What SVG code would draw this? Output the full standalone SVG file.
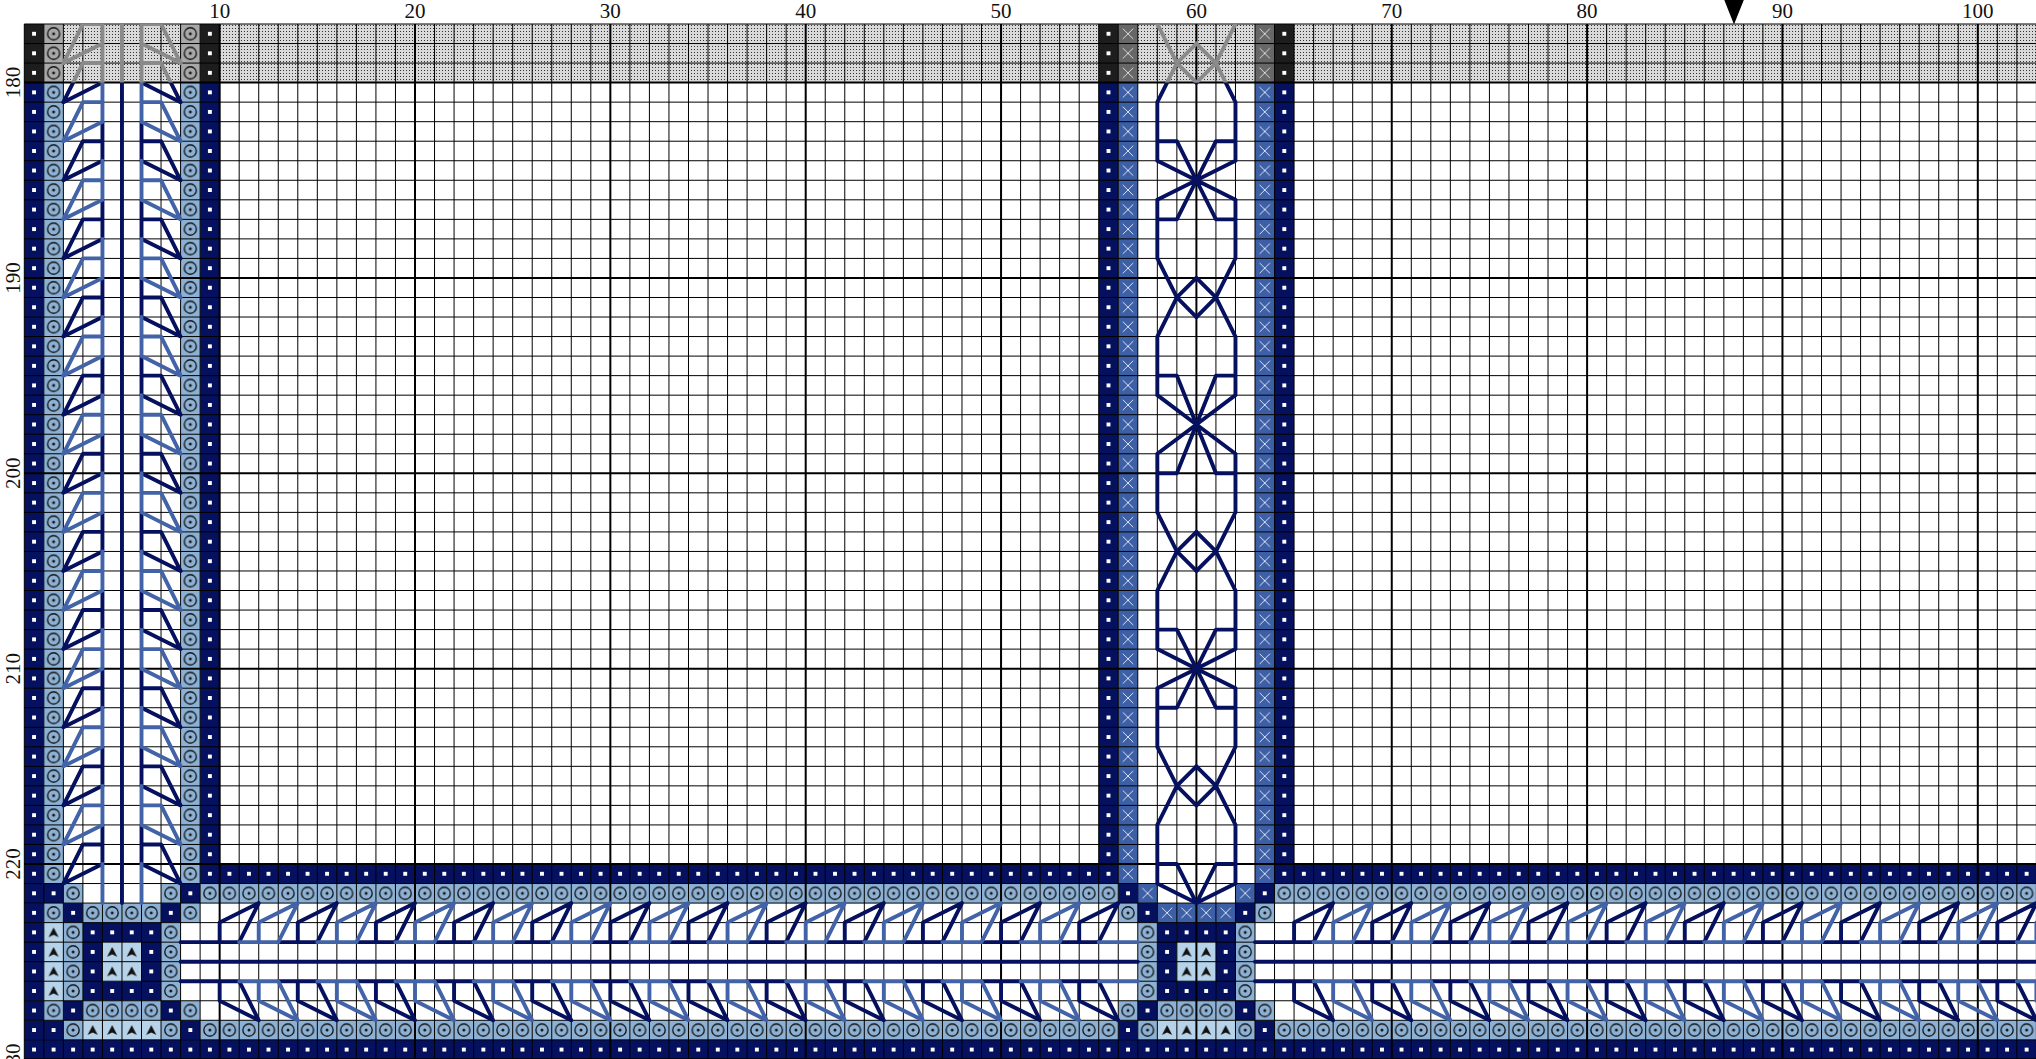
<svg xmlns="http://www.w3.org/2000/svg" xmlns:xlink="http://www.w3.org/1999/xlink" width="2036" height="1059" viewBox="0 0 2036 1059">
<style>
.lbl{font-family:"Liberation Serif","DejaVu Serif",serif;font-size:21px;fill:#111;text-anchor:middle}
.thin{fill:none;stroke:#000;stroke-width:1}
.thick{fill:none;stroke:#000;stroke-width:2}
.bs{fill:none;stroke-width:0.2;stroke-linecap:round;stroke-linejoin:round}
</style>
<defs>
<pattern id="pDot" patternUnits="userSpaceOnUse" width="3" height="3"><rect width="3" height="3" fill="#d9d9d9"/><rect x="1" y="1" width="1" height="1" fill="#333"/></pattern>
<pattern id="pN" patternUnits="userSpaceOnUse" width="1" height="1"><rect width="1" height="1" fill="#05105f"/><rect x=".4" y=".4" width=".2" height=".2" fill="#fff"/></pattern>
<pattern id="pNh" patternUnits="userSpaceOnUse" width="1" height="1"><rect width="1" height="1" fill="#1d1d1d"/><rect x=".4" y=".4" width=".2" height=".2" fill="#fff"/></pattern>
<pattern id="pC" patternUnits="userSpaceOnUse" width="1" height="1"><rect width="1" height="1" fill="#8db1d4"/><circle cx=".5" cy=".5" r=".31" fill="none" stroke="#111" stroke-width=".068"/><circle cx=".5" cy=".5" r=".075" fill="#111"/></pattern>
<pattern id="pCh" patternUnits="userSpaceOnUse" width="1" height="1"><rect width="1" height="1" fill="#a8a8a8"/><circle cx=".5" cy=".5" r=".31" fill="none" stroke="#111" stroke-width=".068"/><circle cx=".5" cy=".5" r=".075" fill="#111"/></pattern>
<pattern id="pX" patternUnits="userSpaceOnUse" width="1" height="1"><rect width="1" height="1" fill="#3d5fa6"/><path d="M.235 .235L.765 .765M.765 .235L.235 .765" stroke="#dfe6f2" stroke-width=".05"/></pattern>
<pattern id="pXh" patternUnits="userSpaceOnUse" width="1" height="1"><rect width="1" height="1" fill="#676767"/><path d="M.235 .235L.765 .765M.765 .235L.235 .765" stroke="#dddddd" stroke-width=".05"/></pattern>
<pattern id="pT" patternUnits="userSpaceOnUse" width="1" height="1"><rect width="1" height="1" fill="#b6d3ea"/><path d="M.5 .25L.76 .75L.5 .63L.24 .75Z" fill="#111"/></pattern>
<clipPath id="cBody" clipPathUnits="userSpaceOnUse"><rect x="-1" y="3" width="110" height="60"/></clipPath>
<clipPath id="cHead" clipPathUnits="userSpaceOnUse"><rect x="-1" y="0" width="110" height="3"/></clipPath>
<g id="gN">
<path d="M5 0V45M4 1V3M4 2H3L2 4L4 3M6 1V3M6 2H7L8 4L6 3M4 5V7M4 6H3L2 8L4 7M6 5V7M6 6H7L8 8L6 7M4 9V11M4 10H3L2 12L4 11M6 9V11M6 10H7L8 12L6 11M4 13V15M4 14H3L2 16L4 15M6 13V15M6 14H7L8 16L6 15M4 17V19M4 18H3L2 20L4 19M6 17V19M6 18H7L8 20L6 19M4 21V23M4 22H3L2 24L4 23M6 21V23M6 22H7L8 24L6 23M4 25V27M4 26H3L2 28L4 27M6 25V27M6 26H7L8 28L6 27M4 29V31M4 30H3L2 32L4 31M6 29V31M6 30H7L8 32L6 31M4 33V35M4 34H3L2 36L4 35M6 33V35M6 34H7L8 36L6 35M4 37V39M4 38H3L2 40L4 39M6 37V39M6 38H7L8 40L6 39M4 41V43M4 42H3L2 44L4 43M6 41V43M6 42H7L8 44L6 43"/>
<path d="M8 48H57M63 48H106M8 47H11M10 47V46L12 45L11 47M8 49H11M10 49V50L12 51L11 49M13 47H15M14 47V46L16 45L15 47M13 49H15M14 49V50L16 51L15 49M17 47H19M18 47V46L20 45L19 47M17 49H19M18 49V50L20 51L19 49M21 47H23M22 47V46L24 45L23 47M21 49H23M22 49V50L24 51L23 49M25 47H27M26 47V46L28 45L27 47M25 49H27M26 49V50L28 51L27 49M29 47H31M30 47V46L32 45L31 47M29 49H31M30 49V50L32 51L31 49M33 47H35M34 47V46L36 45L35 47M33 49H35M34 49V50L36 51L35 49M37 47H39M38 47V46L40 45L39 47M37 49H39M38 49V50L40 51L39 49M41 47H43M42 47V46L44 45L43 47M41 49H43M42 49V50L44 51L43 49M45 47H47M46 47V46L48 45L47 47M45 49H47M46 49V50L48 51L47 49M49 47H51M50 47V46L52 45L51 47M49 49H51M50 49V50L52 51L51 49M53 47H55M54 47V46L56 45L55 47M53 49H55M54 49V50L56 51L55 49"/>
<path d="M63 47H66M65 47V46L67 45L66 47M63 49H66M65 49V50L67 51L66 49M68 47H70M69 47V46L71 45L70 47M68 49H70M69 49V50L71 51L70 49M72 47H74M73 47V46L75 45L74 47M72 49H74M73 49V50L75 51L74 49M76 47H78M77 47V46L79 45L78 47M76 49H78M77 49V50L79 51L78 49M80 47H82M81 47V46L83 45L82 47M80 49H82M81 49V50L83 51L82 49M84 47H86M85 47V46L87 45L86 47M84 49H86M85 49V50L87 51L86 49M88 47H90M89 47V46L91 45L90 47M88 49H90M89 49V50L91 51L90 49M92 47H94M93 47V46L95 45L94 47M92 49H94M93 49V50L95 51L94 49M96 47H98M97 47V46L99 45L98 47M96 49H98M97 49V50L99 51L98 49M100 47H102M101 47V46L103 45L102 47M100 49H102M101 49V50L103 51L102 49"/>
<path d="M58 0L59 2L58 4M60 1L59 2L60 3M58 4V7M58 6H59L60 8L58 7M58 9L60 8L59 10H58M58 9V12M58 12L59 14L58 16M60 13L59 14L60 15M58 16V19M58 18H59L60 20.5L58 19M58 22L60 20.5L59 23H58M58 22V25M58 25L59 27L58 29M60 26L59 27L60 28M58 29V32M58 31H59L60 33L58 32M58 34L60 33L59 35H58M58 34V37M58 37L59 39L58 41M60 38L59 39L60 40M58 41V44M58 43H59L60 45L58 44"/>
<path d="M62 0L61 2L62 4M60 1L61 2L60 3M62 4V7M62 6H61L60 8L62 7M62 9L60 8L61 10H62M62 9V12M62 12L61 14L62 16M60 13L61 14L60 15M62 16V19M62 18H61L60 20.5L62 19M62 22L60 20.5L61 23H62M62 22V25M62 25L61 27L62 29M60 26L61 27L60 28M62 29V32M62 31H61L60 33L62 32M62 34L60 33L61 35H62M62 34V37M62 37L61 39L62 41M60 38L61 39L60 40M62 41V44M62 43H61L60 45L62 44"/>
</g>
<g id="gM">
<path d="M4 -1V1M4 0H3L2 2L4 1M6 -1V1M6 0H7L8 2L6 1M4 3V5M4 4H3L2 6L4 5M6 3V5M6 4H7L8 6L6 5M4 7V9M4 8H3L2 10L4 9M6 7V9M6 8H7L8 10L6 9M4 11V13M4 12H3L2 14L4 13M6 11V13M6 12H7L8 14L6 13M4 15V17M4 16H3L2 18L4 17M6 15V17M6 16H7L8 18L6 17M4 19V21M4 20H3L2 22L4 21M6 19V21M6 20H7L8 22L6 21M4 23V25M4 24H3L2 26L4 25M6 23V25M6 24H7L8 26L6 25M4 27V29M4 28H3L2 30L4 29M6 27V29M6 28H7L8 30L6 29M4 31V33M4 32H3L2 34L4 33M6 31V33M6 32H7L8 34L6 33M4 35V37M4 36H3L2 38L4 37M6 35V37M6 36H7L8 38L6 37M4 39V41M4 40H3L2 42L4 41M6 39V41M6 40H7L8 42L6 41M4 43V45M6 43V45"/>
<path d="M11 47H13M12 47V46L14 45L13 47M11 49H13M12 49V50L14 51L13 49M15 47H17M16 47V46L18 45L17 47M15 49H17M16 49V50L18 51L17 49M19 47H21M20 47V46L22 45L21 47M19 49H21M20 49V50L22 51L21 49M23 47H25M24 47V46L26 45L25 47M23 49H25M24 49V50L26 51L25 49M27 47H29M28 47V46L30 45L29 47M27 49H29M28 49V50L30 51L29 49M31 47H33M32 47V46L34 45L33 47M31 49H33M32 49V50L34 51L33 49M35 47H37M36 47V46L38 45L37 47M35 49H37M36 49V50L38 51L37 49M39 47H41M40 47V46L42 45L41 47M39 49H41M40 49V50L42 51L41 49M43 47H45M44 47V46L46 45L45 47M43 49H45M44 49V50L46 51L45 49M47 47H49M48 47V46L50 45L49 47M47 49H49M48 49V50L50 51L49 49M51 47H53M52 47V46L54 45L53 47M51 49H53M52 49V50L54 51L53 49M55 47H57M55 49H57"/>
<path d="M66 47H68M67 47V46L69 45L68 47M66 49H68M67 49V50L69 51L68 49M70 47H72M71 47V46L73 45L72 47M70 49H72M71 49V50L73 51L72 49M74 47H76M75 47V46L77 45L76 47M74 49H76M75 49V50L77 51L76 49M78 47H80M79 47V46L81 45L80 47M78 49H80M79 49V50L81 51L80 49M82 47H84M83 47V46L85 45L84 47M82 49H84M83 49V50L85 51L84 49M86 47H88M87 47V46L89 45L88 47M86 49H88M87 49V50L89 51L88 49M90 47H92M91 47V46L93 45L92 47M90 49H92M91 49V50L93 51L92 49M94 47H96M95 47V46L97 45L96 47M94 49H96M95 49V50L97 51L96 49M98 47H100M99 47V46L101 45L100 47M98 49H100M99 49V50L101 51L100 49M102 47H104M103 47V46L105 45L104 47M102 49H104M103 49V50L105 51L104 49"/>
</g>
</defs>
<rect width="2036" height="1059" fill="#fff"/>
<rect id="header-band" x="24.3" y="24" width="2012" height="58.6" fill="url(#pDot)"/>
<g id="chart" transform="translate(24.3 24) scale(19.535)">
<g id="cells-navy" fill="url(#pN)">
<rect x="0" y="3" width="1" height="40"/><rect x="9" y="3" width="1" height="40"/><rect x="55" y="3" width="1" height="40"/><rect x="64" y="3" width="1" height="40"/>
<rect x="0" y="43" width="1" height="1"/><rect x="9" y="43" width="47" height="1"/><rect x="64" y="43" width="40" height="1"/>
<rect x="0" y="44" width="2" height="1"/><rect x="8" y="44" width="1" height="1"/><rect x="56" y="44" width="1" height="1"/><rect x="63" y="44" width="1" height="1"/>
<rect x="0" y="45" width="1" height="1"/><rect x="2" y="45" width="1" height="1"/><rect x="7" y="45" width="1" height="1"/><rect x="57" y="45" width="1" height="1"/><rect x="62" y="45" width="1" height="1"/>
<rect x="0" y="46" width="1" height="4"/><rect x="3" y="46" width="1" height="4"/><rect x="6" y="46" width="1" height="4"/><rect x="58" y="46" width="1" height="4"/><rect x="61" y="46" width="1" height="4"/>
<rect x="4" y="46" width="2" height="1"/><rect x="4" y="49" width="2" height="1"/><rect x="59" y="46" width="2" height="1"/><rect x="59" y="49" width="2" height="1"/>
<rect x="0" y="50" width="1" height="1"/><rect x="2" y="50" width="1" height="1"/><rect x="7" y="50" width="1" height="1"/><rect x="57" y="50" width="1" height="1"/><rect x="62" y="50" width="1" height="1"/>
<rect x="0" y="51" width="2" height="1"/><rect x="8" y="51" width="1" height="1"/><rect x="56" y="51" width="1" height="1"/><rect x="63" y="51" width="1" height="1"/>
<rect x="0" y="52" width="104" height="1"/>
</g>
<g id="cells-circle" fill="url(#pC)">
<rect x="1" y="3" width="1" height="41"/><rect x="8" y="3" width="1" height="41"/>
<rect x="2" y="44" width="1" height="1"/><rect x="7" y="44" width="1" height="1"/><rect x="9" y="44" width="47" height="1"/><rect x="64" y="44" width="40" height="1"/>
<rect x="1" y="45" width="1" height="1"/><rect x="3" y="45" width="4" height="1"/><rect x="8" y="45" width="1" height="1"/><rect x="56" y="45" width="1" height="1"/><rect x="63" y="45" width="1" height="1"/>
<rect x="2" y="46" width="1" height="4"/><rect x="7" y="46" width="1" height="4"/><rect x="57" y="46" width="1" height="4"/><rect x="62" y="46" width="1" height="4"/>
<rect x="1" y="50" width="1" height="1"/><rect x="3" y="50" width="4" height="1"/><rect x="8" y="50" width="1" height="1"/><rect x="56" y="50" width="1" height="1"/><rect x="58" y="50" width="4" height="1"/><rect x="63" y="50" width="1" height="1"/>
<rect x="2" y="51" width="1" height="1"/><rect x="7" y="51" width="1" height="1"/><rect x="9" y="51" width="47" height="1"/><rect x="57" y="51" width="1" height="1"/><rect x="62" y="51" width="1" height="1"/><rect x="64" y="51" width="40" height="1"/>
</g>
<g id="cells-x" fill="url(#pX)">
<rect x="56" y="3" width="1" height="41"/><rect x="63" y="3" width="1" height="41"/>
<rect x="57" y="44" width="1" height="1"/><rect x="62" y="44" width="1" height="1"/><rect x="58" y="45" width="4" height="1"/>
</g>
<g id="cells-tri" fill="url(#pT)">
<rect x="1" y="46" width="1" height="4"/><rect x="4" y="47" width="2" height="2"/><rect x="59" y="47" width="2" height="2"/><rect x="3" y="51" width="4" height="1"/><rect x="58" y="51" width="4" height="1"/>
</g>
<g id="cells-header">
<rect x="0" y="0" width="1" height="3" fill="url(#pNh)"/><rect x="9" y="0" width="1" height="3" fill="url(#pNh)"/><rect x="55" y="0" width="1" height="3" fill="url(#pNh)"/><rect x="64" y="0" width="1" height="3" fill="url(#pNh)"/>
<rect x="1" y="0" width="1" height="3" fill="url(#pCh)"/><rect x="8" y="0" width="1" height="3" fill="url(#pCh)"/>
<rect x="56" y="0" width="1" height="3" fill="url(#pXh)"/><rect x="63" y="0" width="1" height="3" fill="url(#pXh)"/>
</g>
<g id="grid">
<path class="thin" vector-effect="non-scaling-stroke" d="M0 0V53M1 0V53M2 0V53M3 0V53M4 0V53M5 0V53M6 0V53M7 0V53M8 0V53M9 0V53M11 0V53M12 0V53M13 0V53M14 0V53M15 0V53M16 0V53M17 0V53M18 0V53M19 0V53M21 0V53M22 0V53M23 0V53M24 0V53M25 0V53M26 0V53M27 0V53M28 0V53M29 0V53M31 0V53M32 0V53M33 0V53M34 0V53M35 0V53M36 0V53M37 0V53M38 0V53M39 0V53M41 0V53M42 0V53M43 0V53M44 0V53M45 0V53M46 0V53M47 0V53M48 0V53M49 0V53M51 0V53M52 0V53M53 0V53M54 0V53M55 0V53M56 0V53M57 0V53M58 0V53M59 0V53M61 0V53M62 0V53M63 0V53M64 0V53M65 0V53M66 0V53M67 0V53M68 0V53M69 0V53M71 0V53M72 0V53M73 0V53M74 0V53M75 0V53M76 0V53M77 0V53M78 0V53M79 0V53M81 0V53M82 0V53M83 0V53M84 0V53M85 0V53M86 0V53M87 0V53M88 0V53M89 0V53M91 0V53M92 0V53M93 0V53M94 0V53M95 0V53M96 0V53M97 0V53M98 0V53M99 0V53M101 0V53M102 0V53M103 0V53M0 0H104M0 1H104M0 2H104M0 4H104M0 5H104M0 6H104M0 7H104M0 8H104M0 9H104M0 10H104M0 11H104M0 12H104M0 14H104M0 15H104M0 16H104M0 17H104M0 18H104M0 19H104M0 20H104M0 21H104M0 22H104M0 24H104M0 25H104M0 26H104M0 27H104M0 28H104M0 29H104M0 30H104M0 31H104M0 32H104M0 34H104M0 35H104M0 36H104M0 37H104M0 38H104M0 39H104M0 40H104M0 41H104M0 42H104M0 44H104M0 45H104M0 46H104M0 47H104M0 48H104M0 49H104M0 50H104M0 51H104M0 52H104"/>
<path class="thick" vector-effect="non-scaling-stroke" d="M10 0V53M20 0V53M30 0V53M40 0V53M50 0V53M60 0V53M70 0V53M80 0V53M90 0V53M100 0V53M0 3H104M0 13H104M0 23H104M0 33H104M0 43H104M0 53H104"/>
</g>
<g id="backstitch">
<g class="bs" clip-path="url(#cBody)"><use xlink:href="#gN" href="#gN" stroke="#05105f"/><use xlink:href="#gM" href="#gM" stroke="#4263a8"/></g>
<g class="bs" clip-path="url(#cHead)" stroke="#8a8a8a"><use xlink:href="#gN" href="#gN"/><use xlink:href="#gM" href="#gM"/></g>
</g>
</g>
<g id="labels">
<text class="lbl" x="219.65" y="18">10</text><text class="lbl" x="415" y="18">20</text><text class="lbl" x="610.35" y="18">30</text><text class="lbl" x="805.7" y="18">40</text><text class="lbl" x="1001.05" y="18">50</text><text class="lbl" x="1196.4" y="18">60</text><text class="lbl" x="1391.75" y="18">70</text><text class="lbl" x="1587.1" y="18">80</text><text class="lbl" x="1782.45" y="18">90</text><text class="lbl" x="1977.8" y="18">100</text>
<text class="lbl" transform="translate(20 82.6) rotate(-90)">180</text><text class="lbl" transform="translate(20 277.96) rotate(-90)">190</text><text class="lbl" transform="translate(20 473.3) rotate(-90)">200</text><text class="lbl" transform="translate(20 668.66) rotate(-90)">210</text><text class="lbl" transform="translate(20 864) rotate(-90)">220</text><text class="lbl" transform="translate(20 1059.36) rotate(-90)">230</text>
</g>
<path id="center-mark" d="M1724.3 0H1743.8L1734 24.5Z" fill="#000"/>
</svg>
